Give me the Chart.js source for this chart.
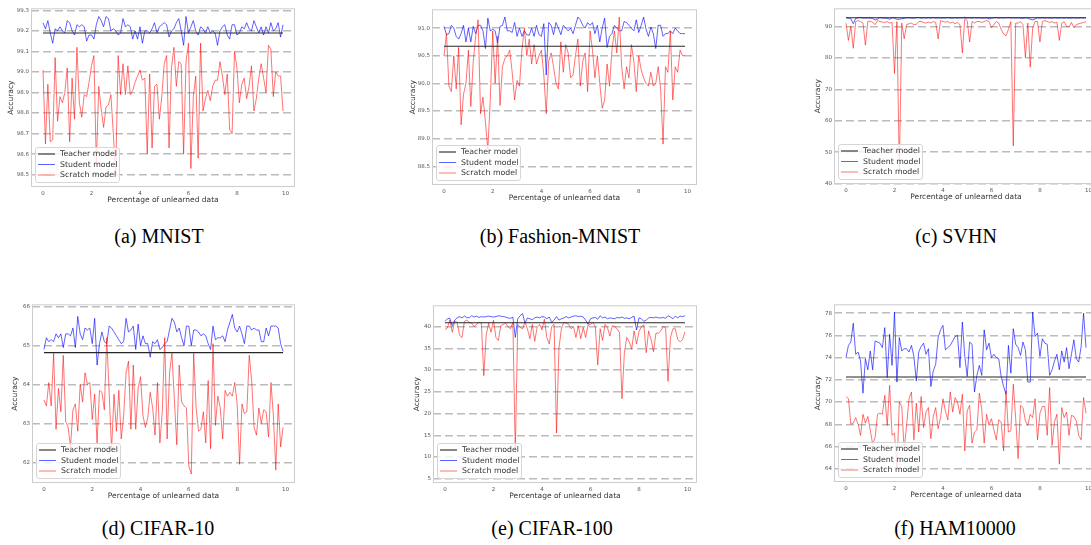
<!DOCTYPE html>
<html>
<head>
<meta charset="utf-8">
<script src="https://cdn.jsdelivr.net/npm/chart.js@4.4.0/dist/chart.umd.min.js"></script>
<style>
  html, body { margin: 0; padding: 0; background: #fff; }
  body { width: 1091px; height: 545px; position: relative; overflow: hidden; }
  canvas { position: absolute; }
  .cap {
    position: absolute;
    font-family: 'Liberation Serif', 'Times New Roman', serif;
    font-size: 20px;
    color: #000;
    transform: translate(-50%, -50%);
    white-space: nowrap;
  }
</style>
</head>
<body>
<canvas id="cMnist"></canvas>
<canvas id="cFashion"></canvas>
<canvas id="cSvhn"></canvas>
<canvas id="cCifar10"></canvas>
<canvas id="cCifar100"></canvas>
<canvas id="cHam"></canvas>

<div class="cap" style="left:159px;top:236px">(a) MNIST</div>
<div class="cap" style="left:560px;top:236px">(b) Fashion-MNIST</div>
<div class="cap" style="left:956px;top:236px">(c) SVHN</div>
<div class="cap" style="left:158px;top:528px">(d) CIFAR-10</div>
<div class="cap" style="left:552px;top:528px">(e) CIFAR-100</div>
<div class="cap" style="left:955px;top:528px">(f) HAM10000</div>

<script>
/* ── Data ─────────────────────────────────────────── */
const percent = [
  0.0, 0.1, 0.2, 0.3, 0.4, 0.5, 0.6, 0.7, 0.8, 0.9,
  1.0, 1.1, 1.2, 1.3, 1.4, 1.5, 1.6, 1.7, 1.8, 1.9,
  2.0, 2.1, 2.2, 2.3, 2.4, 2.5, 2.6, 2.7, 2.8, 2.9,
  3.0, 3.1, 3.2, 3.3, 3.4, 3.5, 3.6, 3.7, 3.8, 3.9,
  4.0, 4.1, 4.2, 4.3, 4.4, 4.5, 4.6, 4.7, 4.8, 4.9,
  5.0, 5.1, 5.2, 5.3, 5.4, 5.5, 5.6, 5.7, 5.8, 5.9,
  6.0, 6.1, 6.2, 6.3, 6.4, 6.5, 6.6, 6.7, 6.8, 6.9,
  7.0, 7.1, 7.2, 7.3, 7.4, 7.5, 7.6, 7.7, 7.8, 7.9,
  8.0, 8.1, 8.2, 8.3, 8.4, 8.5, 8.6, 8.7, 8.8, 8.9,
  9.0, 9.1, 9.2, 9.3, 9.4, 9.5, 9.6, 9.7, 9.8, 9.9
];
const xTicks = [0, 2, 4, 6, 8, 10];
const seriesLabels = ['Teacher model', 'Student model', 'Scratch model'];

// (a) MNIST
const mnistTeacher = 99.19;
const mnistStudent = [
  99.24, 99.21, 99.25, 99.19, 99.14, 99.21, 99.20, 99.22, 99.20, 99.19,
  99.25, 99.24, 99.20, 99.18, 99.23, 99.22, 99.23, 99.22, 99.15, 99.18,
  99.18, 99.16, 99.23, 99.27, 99.25, 99.22, 99.27, 99.26, 99.20, 99.21,
  99.20, 99.18, 99.19, 99.26, 99.22, 99.23, 99.22, 99.16, 99.20, 99.16,
  99.22, 99.14, 99.20, 99.20, 99.19, 99.21, 99.24, 99.19, 99.22, 99.23,
  99.24, 99.23, 99.17, 99.20, 99.21, 99.24, 99.26, 99.20, 99.13, 99.27,
  99.19, 99.22, 99.25, 99.20, 99.18, 99.22, 99.21, 99.19, 99.22, 99.19,
  99.20, 99.19, 99.13, 99.20, 99.22, 99.23, 99.18, 99.16, 99.23, 99.23,
  99.18, 99.19, 99.22, 99.21, 99.24, 99.21, 99.20, 99.25, 99.22, 99.19,
  99.22, 99.18, 99.22, 99.19, 99.24, 99.20, 99.21, 99.24, 99.17, 99.23
];
const mnistScratch = [
  99.01, 98.65, 98.94, 98.66, 98.67, 99.07, 98.76, 98.88, 98.85, 98.90,
  99.02, 98.66, 98.97, 98.77, 99.12, 98.85, 98.78, 98.89, 98.88, 98.95,
  99.03, 99.08, 98.55, 98.93, 98.82, 98.73, 98.83, 98.84, 98.89, 98.70,
  98.50, 99.08, 98.89, 99.04, 98.89, 99.03, 98.89, 98.91, 98.95, 98.98,
  99.01, 98.96, 98.97, 98.60, 98.99, 98.63, 98.93, 98.94, 98.77, 98.88,
  99.04, 99.08, 98.63, 99.02, 99.12, 98.93, 99.05, 99.04, 98.60, 99.05,
  99.14, 98.53, 98.88, 98.98, 98.58, 99.14, 98.81, 98.87, 98.91, 98.86,
  98.93, 98.96, 98.96, 99.05, 98.98, 98.89, 98.99, 98.72, 98.70, 99.10,
  99.02, 98.85, 98.94, 98.97, 98.87, 98.93, 99.03, 98.81, 98.87, 98.97,
  99.04, 98.97, 98.90, 99.13, 99.11, 98.88, 99.00, 98.98, 98.98, 98.81
];
const mnistTicks = [98.5, 98.6, 98.7, 98.8, 98.9, 99.0, 99.1, 99.2, 99.3];

// (b) Fashion-MNIST
const fashionTeacher = 90.67;
const fashionStudent = [
  91.03, 90.88, 90.90, 91.05, 91.00, 90.85, 90.80, 90.90, 91.05, 90.75,
  91.00, 90.75, 91.03, 90.90, 91.05, 91.05, 90.95, 90.63, 91.18, 90.95,
  90.98, 90.95, 90.73, 91.03, 91.05, 91.20, 90.95, 90.95, 90.92, 91.10,
  90.85, 91.00, 90.85, 90.95, 90.88, 90.87, 91.00, 90.85, 91.05, 90.88,
  90.85, 91.08, 90.15, 91.10, 91.05, 90.88, 91.10, 91.00, 90.88, 91.05,
  91.00, 90.95, 91.00, 90.90, 91.05, 91.20, 91.15, 91.05, 91.00, 91.10,
  91.05, 91.10, 90.90, 91.05, 90.75, 91.00, 91.18, 90.65, 90.85, 90.90,
  91.05, 91.00, 90.95, 90.95, 91.12, 91.10, 91.05, 91.00, 90.95, 91.15,
  90.92, 91.05, 91.20, 90.98, 90.85, 91.02, 90.90, 90.63, 91.05, 91.05,
  90.85, 90.90, 90.90, 90.95, 90.90, 91.00, 90.95, 90.90, 90.90, 90.90
];
const fashionScratch = [
  90.50, 90.90, 89.95, 89.85, 90.50, 89.90, 90.65, 89.25, 89.80, 90.00,
  90.60, 89.58, 90.40, 90.85, 91.15, 89.45, 89.75, 89.30, 88.80, 89.70,
  90.95, 90.00, 90.85, 89.60, 90.30, 90.45, 90.50, 90.60, 90.20, 89.70,
  90.05, 89.95, 90.60, 91.00, 90.50, 90.80, 90.35, 90.70, 90.35, 90.50,
  90.60, 90.15, 89.45, 90.40, 90.55, 90.30, 90.00, 89.90, 90.75, 90.20,
  90.70, 90.55, 90.10, 90.15, 90.50, 90.80, 89.95, 90.40, 90.55, 89.85,
  90.95, 90.60, 90.10, 90.50, 90.00, 89.55, 89.70, 90.35, 89.95, 90.60,
  90.95, 90.55, 91.20, 90.30, 89.90, 90.30, 90.10, 90.70, 90.40, 89.85,
  90.50, 90.25, 90.10, 90.00, 89.95, 90.20, 89.95, 90.00, 90.30, 89.90,
  88.90, 90.30, 90.20, 90.95, 89.70, 90.30, 90.20, 90.60, 90.50, 90.50
];
const fashionTicks = [88.5, 89.0, 89.5, 90.0, 90.5, 91.0];

// (c) SVHN
const svhnTeacher = 92.7;
const svhnStudent = [
  92.7, 92.6, 92.4, 90.8, 92.5, 92.7, 92.8, 92.6, 92.6, 92.7,
  92.6, 92.5, 92.0, 92.3, 92.8, 92.6, 92.6, 92.5, 92.2, 92.7,
  92.6, 92.2, 92.2, 92.4, 92.5, 92.7, 92.7, 92.6, 92.6, 92.7,
  92.8, 92.6, 92.7, 92.6, 92.7, 92.6, 92.8, 92.6, 92.7, 92.6,
  92.7, 92.6, 92.8, 92.6, 92.6, 92.7, 92.6, 92.7, 92.6, 92.9,
  92.6, 92.7, 92.6, 92.7, 92.6, 92.7, 92.6, 92.6, 92.7, 92.3,
  92.6, 92.7, 92.8, 92.6, 92.7, 92.6, 92.7, 92.8, 92.6, 92.7,
  92.6, 92.7, 92.6, 92.5, 92.7, 92.6, 92.2, 92.0, 92.3, 92.7,
  92.6, 92.7, 92.6, 92.7, 92.6, 92.6, 92.7, 92.6, 92.6, 92.7,
  92.6, 92.7, 92.6, 92.6, 92.7, 92.6, 92.6, 92.7, 92.6, 92.7
];
const svhnScratch = [
  91.0, 85.5, 90.0, 83.0, 91.5, 91.8, 91.5, 91.0, 84.0, 91.5,
  91.6, 91.3, 90.5, 91.8, 91.5, 91.3, 91.2, 91.5, 91.0, 91.2,
  75.0, 91.5, 44.0, 91.0, 86.0, 90.5, 90.8, 91.0, 90.5, 90.6,
  91.5, 91.5, 91.2, 91.0, 91.3, 91.0, 91.5, 91.2, 86.0, 91.8,
  91.5, 91.3, 91.5, 91.0, 91.3, 90.8, 91.2, 90.5, 81.5, 92.5,
  91.8, 85.0, 91.5, 91.0, 91.5, 91.5, 91.2, 91.5, 91.8, 91.5,
  89.5, 90.5, 91.5, 91.0, 89.0, 87.5, 87.0, 89.0, 91.5, 52.0,
  91.0, 91.0, 91.5, 90.5, 80.0, 91.0, 77.0, 89.5, 91.5, 91.5,
  85.0, 91.5, 91.8, 91.5, 91.2, 91.5, 91.0, 91.3, 85.5, 91.0,
  91.5, 90.0, 89.8, 91.2, 89.5, 90.5, 90.8, 91.0, 91.2, 91.5
];
const svhnTicks = [40, 50, 60, 70, 80, 90];

// (d) CIFAR-10
const cifar10Teacher = 64.82;
const cifar10Student = [
  64.90, 65.20, 65.10, 65.15, 65.10, 65.30, 65.20, 65.30, 64.95, 65.30,
  65.30, 65.25, 65.45, 64.95, 65.75, 65.30, 65.15, 65.45, 65.40, 65.45,
  65.05, 65.70, 64.50, 65.05, 65.35, 65.10, 65.05, 65.50, 65.45, 65.35,
  65.25, 65.15, 65.05, 65.10, 65.70, 65.35, 65.40, 65.50, 64.90, 65.55,
  65.00, 65.25, 65.05, 65.05, 64.70, 65.10, 65.05, 65.15, 64.90, 64.95,
  65.05, 65.10, 65.40, 65.70, 65.60, 65.35, 65.45, 65.20, 65.00, 65.50,
  65.50, 65.00, 65.40, 65.40, 65.35, 65.25, 65.30, 65.25, 65.05, 64.90,
  65.50, 65.15, 65.20, 65.20, 65.25, 65.10, 65.40, 65.60, 65.80, 65.45,
  65.35, 65.50, 65.30, 65.05, 65.50, 65.50, 65.40, 65.45, 65.40, 65.40,
  65.10, 65.10, 65.45, 65.25, 65.50, 65.50, 65.50, 65.45, 65.05, 64.85
];
const cifar10Scratch = [
  63.60, 63.45, 64.05, 63.45, 64.80, 62.85, 63.90, 63.30, 64.75, 63.05,
  62.90, 62.40, 63.35, 63.50, 62.80, 64.00, 63.55, 64.30, 64.00, 64.05,
  63.10, 63.75, 62.50, 63.85, 63.80, 63.35, 65.20, 63.80, 62.30, 63.75,
  62.80, 63.85, 62.60, 63.20, 64.30, 64.60, 62.85, 64.50, 62.85, 63.90,
  64.20, 63.20, 62.90, 63.15, 63.80, 63.40, 62.70, 64.05, 62.50, 63.30,
  65.20, 62.60, 64.30, 64.80, 63.60, 62.45, 64.50, 63.55, 63.45, 63.40,
  61.90, 61.70, 64.80, 63.40, 62.80, 62.85, 63.30, 62.50, 64.10, 62.35,
  65.05, 62.95, 63.70, 63.40, 62.60, 63.85, 63.70, 63.80, 63.70, 64.05,
  63.50, 61.95, 63.50, 63.25, 63.30, 64.75, 64.10, 62.90, 62.70, 63.40,
  63.00, 63.35, 63.30, 62.65, 64.05, 63.20, 61.80, 63.50, 62.40, 62.90
];
const cifar10Ticks = [62, 63, 64, 65, 66];

// (e) CIFAR-100
const cifar100Teacher = 40.9;
const cifar100Student = [
  41.2, 41.8, 41.9, 40.2, 41.5, 42.0, 42.3, 42.0, 42.4, 42.1,
  42.0, 42.5, 42.2, 42.4, 42.1, 42.3, 42.2, 42.3, 42.4, 42.3,
  42.2, 42.3, 42.5, 42.4, 42.3, 42.2, 42.0, 41.9, 42.2, 37.5,
  41.8, 42.5, 43.0, 40.8, 42.0, 41.8, 41.6, 42.0, 42.2, 42.0,
  42.3, 42.2, 41.8, 42.2, 41.0, 41.5, 42.3, 41.5, 41.8, 42.0,
  42.3, 42.0, 42.2, 42.4, 42.5, 42.3, 42.4, 42.2, 41.5, 40.5,
  41.8, 42.0, 42.1, 41.7, 42.5, 42.0, 42.2, 41.8, 42.0, 41.9,
  41.8, 42.1, 42.0, 42.2, 41.9, 42.0, 41.8, 42.1, 42.4, 39.2,
  42.0, 41.8, 41.2, 41.5, 42.0, 42.1, 42.0, 42.2, 42.0, 42.0,
  42.1, 41.9, 42.5, 42.2, 41.8, 42.4, 42.0, 42.4, 42.3, 42.5
];
const cifar100Scratch = [
  39.3, 39.7, 41.5, 38.7, 41.3, 41.0, 38.0, 37.5, 41.2, 41.5,
  41.0, 40.8, 40.0, 40.5, 41.0, 40.8, 28.7, 38.0, 40.8, 38.7,
  41.5, 37.5, 36.8, 40.2, 40.5, 40.8, 40.0, 39.5, 41.0, 11.0,
  40.5, 39.8, 39.5, 41.0, 39.5, 37.2, 40.5, 36.6, 39.8, 40.5,
  39.2, 41.7, 37.5, 36.0, 40.0, 40.5, 15.5, 35.0, 39.5, 41.0,
  40.8, 40.5, 39.5, 40.0, 37.5, 40.2, 37.2, 39.8, 37.5, 40.3,
  40.5, 41.0, 40.0, 31.2, 39.5, 36.8, 40.5, 39.8, 37.8, 40.2,
  40.0, 39.5, 38.6, 23.4, 34.0, 37.5, 36.5, 34.8, 39.0, 36.0,
  38.8, 40.0, 40.4, 34.0, 39.0, 37.0, 34.2, 38.5, 38.5, 39.0,
  40.0, 39.8, 27.4, 37.5, 39.5, 39.5, 37.0, 36.5, 37.0, 38.8
];
const cifar100Ticks = [5, 10, 15, 20, 25, 30, 35, 40];

// (f) HAM10000
const hamTeacher = 72.26;
const hamStudent = [
  74.0, 75.1, 75.4, 77.1, 74.3, 74.5, 73.7, 70.8, 73.9, 72.9,
  74.6, 72.9, 75.5, 75.4, 75.3, 74.9, 76.7, 72.2, 76.1, 73.3,
  78.1, 71.8, 75.8, 74.6, 74.8, 74.8, 74.5, 75.1, 74.1, 71.9,
  74.5, 75.0, 75.3, 74.3, 74.8, 71.4, 72.8, 73.4, 75.8, 76.5,
  76.9, 74.7, 74.9, 75.1, 75.5, 75.9, 76.0, 73.1, 77.2, 74.1,
  72.3, 75.4, 75.2, 70.9, 72.4, 73.3, 72.4, 76.5, 74.7, 75.3,
  74.0, 74.3, 74.0, 73.9, 72.3, 71.4, 70.7, 75.1, 72.6, 76.6,
  75.2, 74.9, 74.2, 75.4, 74.7, 71.8, 71.8, 78.1, 75.9, 76.2,
  74.1, 75.7, 75.3, 75.2, 72.4, 72.9, 73.7, 74.3, 72.9, 74.6,
  73.6, 74.9, 73.0, 74.3, 75.6, 73.9, 73.6, 75.0, 78.0, 74.9
];
const hamScratch = [
  70.5, 70.3, 68.0, 68.1, 68.6, 68.0, 67.0, 68.9, 68.1, 68.7,
  67.5, 66.2, 66.8, 68.9, 69.0, 68.9, 70.6, 67.9, 71.5, 67.0,
  67.2, 64.1, 70.0, 69.6, 65.7, 67.9, 70.3, 70.9, 66.6, 69.9,
  67.3, 70.5, 67.7, 69.1, 69.5, 66.7, 68.7, 69.5, 67.6, 68.6,
  70.3, 69.2, 68.4, 70.9, 69.1, 70.4, 70.0, 68.9, 70.7, 65.6,
  69.2, 69.7, 66.3, 67.3, 67.5, 70.8, 69.3, 66.3, 68.9, 67.9,
  68.5, 67.5, 66.6, 68.4, 68.2, 65.6, 71.0, 67.3, 67.4, 71.6,
  68.5, 64.9, 69.7, 69.5, 68.3, 67.9, 68.9, 68.6, 70.3, 66.6,
  69.0, 69.6, 69.6, 67.0, 71.3, 66.1, 68.2, 68.9, 64.4, 69.5,
  68.6, 69.1, 67.0, 68.8, 68.7, 68.3, 67.0, 66.6, 70.4, 69.0
];
const hamTicks = [64, 66, 68, 70, 72, 74, 76, 78];

/* ── Layout constants (page pixels) ───────────────── */
const Y_AXIS_W = 32;
const X_AXIS_H = 22;
const PAD_T = 2;
const PAD_R = 2;
const FONT = '"DejaVu Sans", sans-serif';

/* ── Plugins: axes frame + boxed legend ───────────── */
const frame = {
  id: 'frame',
  afterDatasetsDraw(chart) {
    const { ctx, chartArea: a } = chart;
    ctx.save();
    ctx.strokeStyle = '#cdcdcd';
    ctx.lineWidth = 1;
    ctx.strokeRect(a.left + 0.5, a.top + 0.5, a.width - 1, a.height - 1);
    ctx.restore();
  }
};

const boxLegend = {
  id: 'boxLegend',
  afterDraw(chart) {
    const { ctx, chartArea: a } = chart;
    const w = 84, h = 35;
    const x = a.left + 4, y = a.bottom - 5 - h;
    ctx.save();
    ctx.fillStyle = 'rgba(255,255,255,0.8)';
    ctx.strokeStyle = '#d6d6d6';
    ctx.lineWidth = 1;
    ctx.beginPath();
    ctx.roundRect(x + 0.5, y + 0.5, w, h, 2.5);
    ctx.fill();
    ctx.stroke();
    ctx.font = '7.8px ' + FONT;
    ctx.textBaseline = 'middle';
    chart.data.datasets.forEach((ds, i) => {
      const cy = y + 7 + i * 10.5;
      ctx.strokeStyle = ds.borderColor;
      ctx.lineWidth = ds.borderWidth;
      ctx.beginPath();
      ctx.moveTo(x + 3, cy);
      ctx.lineTo(x + 20, cy);
      ctx.stroke();
      ctx.fillStyle = '#333';
      ctx.fillText(ds.label, x + 25, cy);
    });
    ctx.restore();
  }
};

/* ── Panels ───────────────────────────────────────── */
// area = [left, top, right, bottom] of the plot box on the page
const panels = [
  { id: 'cMnist',    area: [31, 5, 295, 187],   yMin: 98.44, yMax: 99.31, ticks: mnistTicks,    dec: 1, titleOff: 20,
    teacher: mnistTeacher, student: mnistStudent, scratch: mnistScratch },
  { id: 'cFashion',  area: [432, 6, 697, 185],  yMin: 88.16, yMax: 91.34, ticks: fashionTicks,  dec: 1, titleOff: 19,
    teacher: fashionTeacher, student: fashionStudent, scratch: fashionScratch },
  { id: 'cSvhn',     area: [834, 5, 1098, 184], yMin: 39.9,  yMax: 95.7,  ticks: svhnTicks,     dec: 0, titleOff: 16,
    teacher: svhnTeacher, student: svhnStudent, scratch: svhnScratch },
  { id: 'cCifar10',  area: [32, 301, 295, 483], yMin: 61.47, yMax: 66.06, ticks: cifar10Ticks,  dec: 0, titleOff: 17,
    teacher: cifar10Teacher, student: cifar10Student, scratch: cifar10Scratch },
  { id: 'cCifar100', area: [433, 302, 697, 483], yMin: 4.0,  yMax: 44.9,  ticks: cifar100Ticks, dec: 0, titleOff: 16,
    teacher: cifar100Teacher, student: cifar100Student, scratch: cifar100Scratch },
  { id: 'cHam',      area: [834, 301, 1098, 482], yMin: 62.8, yMax: 78.8, ticks: hamTicks,      dec: 0, titleOff: 16,
    teacher: hamTeacher, student: hamStudent, scratch: hamScratch },
];

const toPoints = vals => vals.map((v, i) => ({ x: percent[i], y: v }));

panels.forEach(p => {
  const [L, T, R, B] = p.area;
  const W = (R - L) + Y_AXIS_W + PAD_R;
  const H = (B - T) + PAD_T + X_AXIS_H;
  const cv = document.getElementById(p.id);
  cv.width = W; cv.height = H;
  cv.style.width = W + 'px'; cv.style.height = H + 'px';
  cv.style.left = (L - Y_AXIS_W) + 'px';
  cv.style.top = (T - PAD_T) + 'px';

  new Chart(cv, {
    type: 'line',
    data: {
      datasets: [
        { label: seriesLabels[0], data: percent.map(x => ({ x, y: p.teacher })),
          borderColor: '#262626', borderWidth: 1.1, order: 0 },
        { label: seriesLabels[1], data: toPoints(p.student),
          borderColor: 'rgba(0,0,255,0.62)', borderWidth: 1, order: 2 },
        { label: seriesLabels[2], data: toPoints(p.scratch),
          borderColor: 'rgba(255,0,0,0.55)', borderWidth: 1, order: 1 },
      ]
    },
    options: {
      responsive: false,
      animation: false,
      devicePixelRatio: 1,
      layout: { padding: { top: PAD_T, right: PAD_R, left: 0, bottom: 0 } },
      elements: { point: { radius: 0 }, line: { tension: 0 } },
      plugins: { legend: { display: false }, tooltip: { enabled: false } },
      scales: {
        x: {
          type: 'linear',
          min: -0.495, max: 10.395,
          afterBuildTicks: ax => { ax.ticks = xTicks.map(v => ({ value: v })); },
          afterFit: ax => { ax.height = X_AXIS_H; },
          grid: { display: false, drawTicks: false },
          border: { display: false },
          ticks: { color: '#555', font: { family: FONT, size: 5.5 }, padding: 3, maxRotation: 0, autoSkip: false,
                   callback: v => String(v) },
          title: { display: true, text: 'Percentage of unlearned data', color: '#333',
                   font: { family: FONT, size: 7.5 }, padding: { top: 0, bottom: 4.5 } }
        },
        y: {
          min: p.yMin, max: p.yMax,
          afterBuildTicks: ax => { ax.ticks = p.ticks.map(v => ({ value: v })); },
          afterFit: ax => { ax.width = Y_AXIS_W; },
          grid: { color: '#bcbcbc', lineWidth: 1.4, drawTicks: false },
          border: { display: false, dash: [8, 4] },
          ticks: { color: '#555', font: { family: FONT, size: 5.5 }, padding: 2, autoSkip: false,
                   callback: v => v.toFixed(p.dec) },
          title: { display: true, text: 'Accuracy', color: '#333',
                   font: { family: FONT, size: 7.5 }, padding: { top: Y_AXIS_W - p.titleOff - 4.5, bottom: 0 } }
        }
      }
    },
    plugins: [frame, boxLegend]
  });
});
</script>
</body>
</html>
